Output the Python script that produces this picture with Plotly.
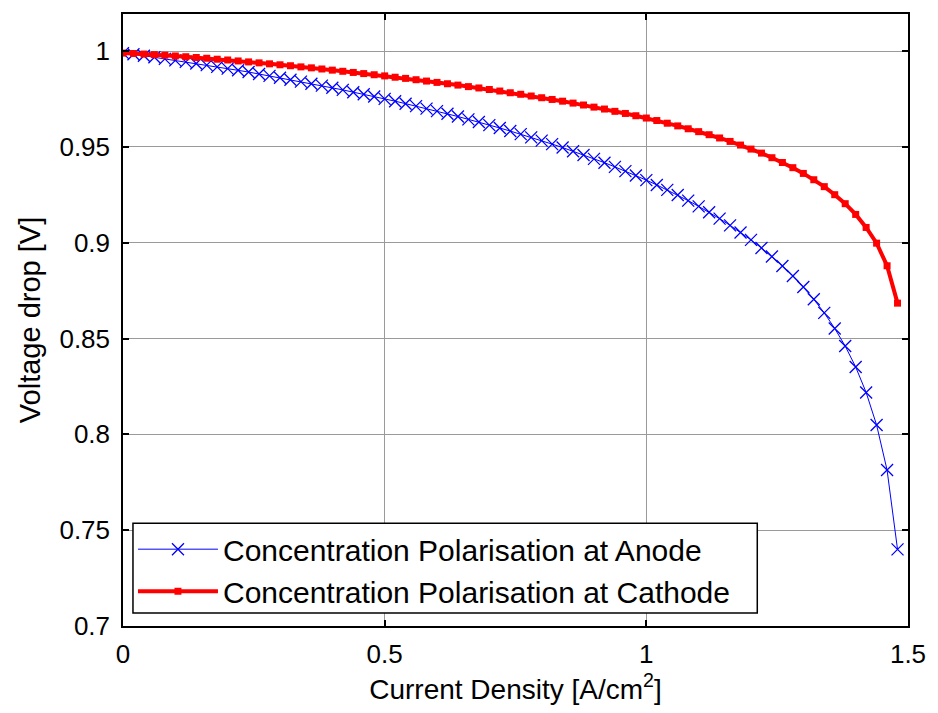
import plotly.graph_objects as go

current_density = [
    0.00, 0.02, 0.04, 0.06, 0.08, 0.10, 0.12, 0.14, 0.16, 0.18,
    0.20, 0.22, 0.24, 0.26, 0.28, 0.30, 0.32, 0.34, 0.36, 0.38,
    0.40, 0.42, 0.44, 0.46, 0.48, 0.50, 0.52, 0.54, 0.56, 0.58,
    0.60, 0.62, 0.64, 0.66, 0.68, 0.70, 0.72, 0.74, 0.76, 0.78,
    0.80, 0.82, 0.84, 0.86, 0.88, 0.90, 0.92, 0.94, 0.96, 0.98,
    1.00, 1.02, 1.04, 1.06, 1.08, 1.10, 1.12, 1.14, 1.16, 1.18,
    1.20, 1.22, 1.24, 1.26, 1.28, 1.30, 1.32, 1.34, 1.36, 1.38,
    1.40, 1.42, 1.44, 1.46, 1.48,
]

anode_v = [
    0.9990, 0.9984, 0.9976, 0.9968, 0.9960, 0.9952, 0.9944, 0.9936, 0.9927, 0.9918,
    0.9909, 0.9900, 0.9891, 0.9881, 0.9871, 0.9861, 0.9851, 0.9841, 0.9830, 0.9820,
    0.9809, 0.9798, 0.9786, 0.9775, 0.9763, 0.9751, 0.9739, 0.9726, 0.9713, 0.9700,
    0.9687, 0.9673, 0.9659, 0.9644, 0.9630, 0.9614, 0.9599, 0.9583, 0.9567, 0.9550,
    0.9533, 0.9515, 0.9497, 0.9478, 0.9458, 0.9438, 0.9418, 0.9396, 0.9374, 0.9351,
    0.9327, 0.9302, 0.9276, 0.9249, 0.9220, 0.9190, 0.9159, 0.9126, 0.9091, 0.9054,
    0.9015, 0.8973, 0.8928, 0.8879, 0.8827, 0.8769, 0.8705, 0.8634, 0.8553, 0.8461,
    0.8352, 0.8219, 0.8049, 0.7814, 0.7400,
]

cathode_v = [
    0.9990, 0.9988, 0.9985, 0.9982, 0.9979, 0.9975, 0.9971, 0.9967, 0.9963, 0.9958,
    0.9954, 0.9949, 0.9944, 0.9939, 0.9934, 0.9929, 0.9924, 0.9918, 0.9913, 0.9907,
    0.9901, 0.9895, 0.9889, 0.9883, 0.9877, 0.9871, 0.9864, 0.9858, 0.9851, 0.9844,
    0.9837, 0.9830, 0.9823, 0.9815, 0.9808, 0.9800, 0.9792, 0.9783, 0.9775, 0.9766,
    0.9757, 0.9748, 0.9739, 0.9729, 0.9719, 0.9708, 0.9698, 0.9686, 0.9675, 0.9663,
    0.9651, 0.9638, 0.9624, 0.9610, 0.9595, 0.9580, 0.9564, 0.9547, 0.9529, 0.9510,
    0.9489, 0.9468, 0.9444, 0.9419, 0.9392, 0.9362, 0.9329, 0.9293, 0.9251, 0.9204,
    0.9148, 0.9080, 0.8998, 0.8880, 0.8685,
]

x_tick_vals = [0, 0.5, 1, 1.5]
x_tick_text = ["0", "0.5", "1", "1.5"]
y_tick_vals = [0.7, 0.75, 0.8, 0.85, 0.9, 0.95, 1.0]
y_tick_text = ["0.7", "0.75", "0.8", "0.85", "0.9", "0.95", "1"]

FONT = "Liberation Sans, Arial, sans-serif"

fig = go.Figure()
fig.add_trace(go.Scatter(
    x=current_density, y=anode_v, mode="lines+markers",
    name="Concentration Polarisation at Anode",
    line=dict(color="#0000FF", width=1),
    marker=dict(symbol="x-thin", size=12, line=dict(color="#0000FF", width=1.3), color="#0000FF"),
))
fig.add_trace(go.Scatter(
    x=current_density, y=cathode_v, mode="lines+markers",
    name="Concentration Polarisation at Cathode",
    line=dict(color="#FF0000", width=4),
    marker=dict(symbol="square", size=7, color="#FF0000"),
))

axis_common = dict(
    showline=True, linecolor="black", linewidth=1.5, mirror="ticks",
    ticks="inside", ticklen=6, tickcolor="black", tickwidth=1.5,
    showgrid=True, gridcolor="#9a9a9a", gridwidth=1,
    zeroline=False,
    tickfont=dict(family=FONT, size=26, color="black"),
)

fig.update_xaxes(
    range=[0, 1.5], tickvals=x_tick_vals, ticktext=x_tick_text,
    ticklabelstandoff=4,
    title=dict(text="Current Density [A/cm<sup>2</sup>]", font=dict(family=FONT, size=28, color="black"), standoff=9),
    **axis_common,
)
fig.update_yaxes(
    range=[0.7, 1.0194], tickvals=y_tick_vals, ticktext=y_tick_text,
    ticklabelstandoff=6,
    title=dict(text="Voltage drop [V]", font=dict(family=FONT, size=29, color="black"), standoff=10),
    **axis_common,
)

# legend frame (MATLAB-style box, wider than the text)
fig.add_shape(
    type="rect", xref="paper", yref="paper",
    x0=0.0127, x1=0.808, y0=0.0212, y1=0.168,
    fillcolor="white", line=dict(color="black", width=1.5), layer="above",
)

fig.update_layout(
    width=938, height=713,
    margin=dict(l=123, r=27, t=13, b=87),
    paper_bgcolor="white", plot_bgcolor="white",
    font=dict(family=FONT, size=26, color="black"),
    legend=dict(
        x=0.0127, y=0.168, xanchor="left", yanchor="top",
        bgcolor="rgba(0,0,0,0)", borderwidth=0,
        font=dict(family=FONT, size=30, color="black"),
        itemwidth=80, tracegroupgap=0,
    ),
)

fig.write_html("out.html")
